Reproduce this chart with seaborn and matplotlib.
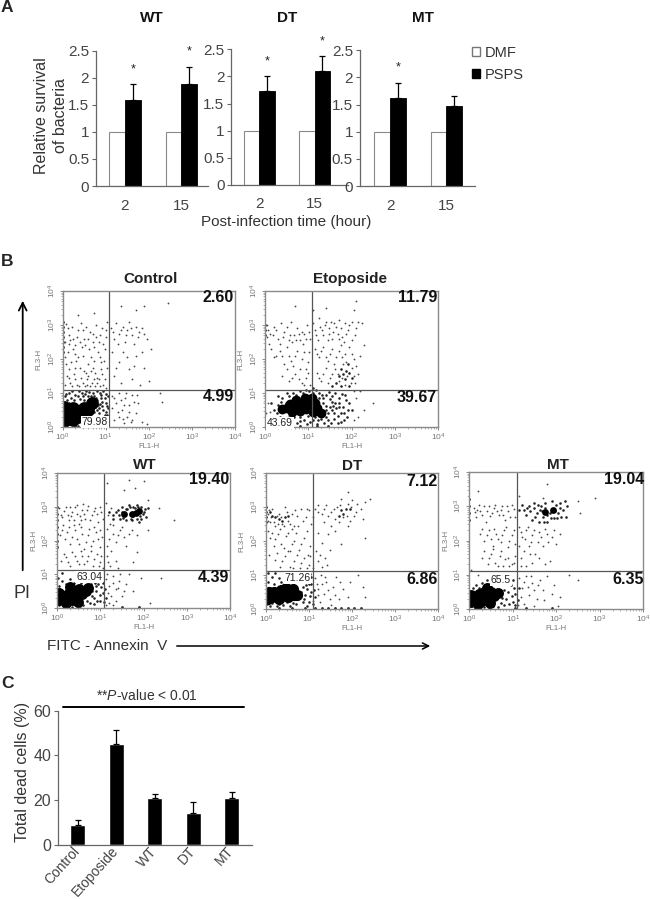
import matplotlib
matplotlib.use("Agg")
import matplotlib.pyplot as plt
from matplotlib.patches import Patch
import numpy as np
import pandas as pd
import seaborn as sns

# panel A
times = ["2", "15"]
treatments = ["DMF", "PSPS"]
dmf_values = [1, 1]
wt_psps = [1.58, 1.89]
dt_psps = [1.73, 2.10]
mt_psps = [1.63, 1.47]
wt_err = [0.31, 0.31]
dt_err = [0.27, 0.27]
mt_err = [0.26, 0.19]
wt_stars = [2.15, 2.48]
dt_stars = [2.28, 2.64]
mt_stars = [2.18, None]

# panel C
groups = ["Control", "Etoposide", "WT", "DT", "MT"]
dead_cells = [9, 45, 21, 14, 21]
dead_err = [2, 6.5, 1.5, 5, 2.5]

# panel B, dots as (log10 FL1, log10 FL3)
ctrl_sparse = [(0.08,3.02),(0.15,2.7),(0.22,2.95),(0.3,2.4),(0.35,2.85),(0.42,3.05),(0.5,2.6),(0.55,2.95),(0.62,2.3),(0.7,2.75),(0.78,3.0),(0.85,2.5),(0.92,2.9),(1.0,2.65),(1.03,3.1),(0.12,2.2),(0.2,1.9),(0.28,2.15),(0.4,1.75),(0.48,2.1),(0.58,1.85),(0.66,2.05),(0.75,1.6),(0.82,2.2),(0.9,1.9),(0.98,2.3),(0.1,1.5),(0.18,1.3),(0.26,1.55),(0.34,1.25),(0.44,1.45),(0.52,1.2),(0.6,1.5),(0.68,1.3),(0.76,1.2),(0.84,1.4),(0.94,1.25),(1.02,1.15),(0.35,3.3),(0.72,3.35),(0.05,2.5),(0.16,2.45),(0.25,2.6),(0.45,2.35),(0.6,2.6),(0.74,2.35),(0.88,2.7),(0.14,1.7),(0.32,1.95),(0.54,1.6),(0.7,1.75),(0.92,1.55),(1.12,2.9),(1.2,2.6),(1.25,3.05),(1.32,2.75),(1.4,2.95),(1.45,2.5),(1.5,2.85),(1.55,3.1),(1.62,2.7),(1.7,2.95),(1.78,2.8),(1.85,2.9),(1.95,2.6),(2.05,2.3),(1.15,2.2),(1.3,1.9),(1.4,2.2),(1.55,1.7),(1.7,2.1),(1.85,2.2),(1.2,1.5),(1.35,1.3),(1.6,1.4),(1.8,1.25),(2.0,1.35),(1.35,3.55),(1.7,3.45),(1.9,3.55),(2.45,3.65),(1.15,0.9),(1.25,0.7),(1.3,1.0),(1.38,0.5),(1.45,0.85),(1.5,0.3),(1.55,0.65),(1.6,0.95),(1.7,0.4),(1.75,0.7),(1.85,0.15),(1.95,0.1),(2.25,1.0),(2.3,0.75),(1.2,0.2),(1.3,0.3),(1.42,0.12),(1.62,0.2)]
ctrl_fine = [(0.05,2.05),(0.08,1.85),(0.13,2.9),(0.18,2.55),(0.24,2.3),(0.3,1.75),(0.33,2.65),(0.37,2.05),(0.4,2.5),(0.47,2.85),(0.5,1.65),(0.53,2.4),(0.57,1.4),(0.63,2.8),(0.65,1.65),(0.7,2.5),(0.73,1.95),(0.78,2.65),(0.8,1.45),(0.86,2.05),(0.9,1.7),(0.95,2.45),(0.97,1.95),(1.0,2.85),(1.03,1.75),(0.06,1.25),(0.14,1.45),(0.22,1.2),(0.3,1.4),(0.38,1.2),(0.48,1.3),(0.56,1.25),(0.64,1.2),(0.72,1.42),(0.8,1.3),(0.88,1.2),(0.98,1.4),(1.18,2.8),(1.28,2.45),(1.36,2.85),(1.48,2.7),(1.58,2.9),(1.66,2.45),(1.74,2.65),(1.9,2.75),(1.25,1.75),(1.5,2.05),(1.65,1.8),(1.9,1.75),(1.15,0.55),(1.2,0.85),(1.28,0.45),(1.35,0.8),(1.42,0.65),(1.48,1.0),(1.55,0.45),(1.65,0.75),(1.4,0.25),(1.58,0.15),(1.72,0.95)]
ctrl_mid = [(0.6,0.9),(0.7,1.0),(0.8,0.8),(0.9,0.95),(1.0,0.7),(1.05,0.9),(0.75,0.6),(0.85,0.4),(0.95,0.5),(1.0,0.2),(0.9,0.15),(0.7,0.25),(0.15,1.0),(0.3,0.95),(0.45,1.0),(0.2,0.85),(0.55,1.05),(0.65,0.75),(0.8,1.05),(0.95,1.05),(0.05,0.9),(0.4,0.82),(0.72,0.45),(0.62,0.62),(0.82,0.65),(0.92,0.75),(0.1,0.78),(0.5,0.78),(0.04,0.05),(0.16,0.08),(0.3,0.04),(0.78,0.12),(1.06,0.55),(1.03,0.35),(0.66,0.12),(0.88,0.3),(0.62,0.3),(0.68,0.4),(0.72,0.7),(0.78,0.85),(0.85,0.55),(0.9,0.3),(0.92,0.62),(0.98,0.85),(0.98,0.35),(1.04,0.62),(1.05,0.12),(0.58,0.75),(0.48,0.9),(0.36,0.9),(0.26,0.78),(0.14,0.72),(0.08,0.98),(0.22,1.05),(0.38,1.05),(0.62,1.03),(0.74,0.92),(0.86,1.0),(1.0,0.98),(0.66,0.9),(0.52,0.98),(0.76,0.75),(0.88,0.68),(0.96,0.18),(0.82,0.22),(0.72,0.12),(0.58,0.1),(0.45,0.08),(0.36,0.02),(0.1,0.02),(0.64,0.42),(0.8,0.5),(0.7,0.55),(0.9,0.85),(1.02,0.45),(0.84,0.15)]
ctrl_core = [(0.05,0.2),(0.05,0.42),(0.14,0.3),(0.14,0.5),(0.24,0.22),(0.25,0.4),(0.25,0.56),(0.36,0.3),(0.38,0.48),(0.48,0.38),(0.5,0.55),(0.58,0.5),(0.68,0.72),(0.04,0.6)]
ctrl_edge = [(0.0,3.1),(0.0,2.95),(0.0,2.8),(0.0,2.65),(0.0,2.5),(0.0,2.35),(0.0,2.2)]

eto_sparse = [(0.05,3.0),(0.12,2.75),(0.2,2.95),(0.3,2.6),(0.38,3.05),(0.45,2.8),(0.52,2.35),(0.6,3.1),(0.68,2.7),(0.75,2.9),(0.82,2.55),(0.9,2.75),(0.98,3.0),(1.05,2.6),(0.15,2.3),(0.25,2.1),(0.35,2.25),(0.45,1.85),(0.55,2.1),(0.65,1.8),(0.75,2.25),(0.85,2.0),(0.95,1.7),(1.02,2.2),(0.4,1.5),(0.55,1.35),(0.7,1.55),(0.85,1.3),(0.95,1.45),(1.05,1.25),(1.12,3.05),(1.18,2.7),(1.25,3.2),(1.32,2.85),(1.38,3.0),(1.45,2.55),(1.52,3.1),(1.58,2.8),(1.65,2.95),(1.72,3.15),(1.78,2.65),(1.85,3.05),(1.92,2.85),(2.0,3.1),(2.08,2.7),(2.15,3.1),(2.25,3.05),(2.3,2.4),(2.2,2.1),(1.15,2.3),(1.25,2.05),(1.35,2.35),(1.45,1.95),(1.55,2.3),(1.65,2.05),(1.75,2.4),(1.85,2.15),(1.95,2.35),(2.05,2.0),(1.2,1.6),(1.3,1.35),(1.4,1.75),(1.5,1.45),(1.62,1.7),(1.72,1.35),(1.8,1.85),(1.9,1.5),(2.0,1.75),(2.08,1.3),(2.15,1.55),(1.4,3.5),(1.1,3.45),(0.7,3.55),(2.1,3.7),(2.05,3.45),(0.05,2.65),(0.1,2.45),(0.55,2.55),(1.48,2.75),(1.7,2.6),(2.5,0.7),(2.2,1.05),(2.3,0.5),(0.08,0.25),(0.02,0.4)]
eto_fine = [(0.08,2.85),(0.18,2.7),(0.25,2.85),(0.35,2.45),(0.42,2.65),(0.5,2.95),(0.58,2.7),(0.62,2.5),(0.72,2.55),(0.78,2.75),(0.85,2.8),(0.88,2.45),(0.94,2.6),(1.02,2.8),(0.2,2.05),(0.4,2.1),(0.5,1.7),(0.6,1.95),(0.7,2.1),(0.8,1.7),(0.9,2.2),(1.0,1.9),(0.62,1.45),(0.78,1.4),(0.9,1.25),(1.0,1.6),(1.15,2.85),(1.22,2.55),(1.28,2.95),(1.35,2.7),(1.42,3.1),(1.48,2.9),(1.55,2.6),(1.6,3.05),(1.68,2.75),(1.75,2.9),(1.82,2.5),(1.88,2.75),(1.95,3.0),(2.02,2.55),(2.1,2.9),(1.2,2.15),(1.3,2.25),(1.4,2.05),(1.5,2.15),(1.6,1.85),(1.7,2.25),(1.78,2.05),(1.88,1.9),(2.0,2.15),(2.1,1.8),(1.25,1.45),(1.35,1.55),(1.45,1.3),(1.55,1.55),(1.68,1.55),(1.78,1.45),(1.85,1.25),(1.98,1.3),(2.05,1.5),(0.08,0.7),(0.12,0.45),(0.18,0.18),(0.12,0.08),(2.1,0.85),(2.15,0.3),(2.05,1.05),(2.05,0.2)]
eto_mid = [(1.75,1.7),(1.8,1.55),(1.88,1.65),(1.95,1.6),(1.85,1.4),(1.7,1.5),(1.92,1.85),(2.0,1.45),(1.65,1.3),(1.55,1.2),(1.75,1.2),(1.95,1.2),(0.2,0.5),(0.3,0.65),(0.35,0.3),(0.25,0.2),(0.4,0.85),(0.5,1.0),(0.45,0.15),(0.6,0.2),(0.75,0.12),(0.9,0.2),(1.05,0.15),(1.2,0.1),(0.65,1.0),(0.8,1.05),(0.95,1.1),(1.1,1.15),(1.25,1.0),(1.4,0.95),(1.55,0.9),(1.7,0.85),(1.85,0.95),(1.95,0.7),(2.0,0.5),(1.9,0.3),(1.75,0.15),(1.6,0.25),(1.45,0.2),(1.3,0.25),(1.35,0.7),(1.5,0.6),(1.65,0.55),(1.8,0.6),(1.45,0.4),(1.6,0.4),(1.75,0.4),(1.35,0.85),(1.55,0.75),(0.3,0.9),(0.15,0.7),(1.2,0.75),(1.1,1.0),(1.4,0.3),(0.55,0.9),(0.4,0.6),(0.28,0.42),(0.36,0.75),(0.48,0.72),(0.55,0.3),(0.68,0.3),(0.8,0.3),(1.0,0.32),(1.15,0.3),(1.28,0.6),(1.42,0.62),(1.5,0.82),(1.62,0.7),(1.72,0.7),(1.88,0.8),(1.92,0.5),(1.82,0.2),(1.68,0.12),(1.52,0.12),(1.36,0.12),(1.12,0.22),(0.98,0.1),(0.82,0.18),(0.62,0.1),(0.72,0.95),(0.88,1.0),(1.02,1.05),(1.18,1.08),(1.32,0.95),(1.48,1.02),(1.62,1.0),(1.78,0.98),(1.4,0.5),(1.55,0.5),(1.68,0.32),(1.3,0.38),(1.22,0.2),(0.5,0.2),(0.35,0.12),(1.72,0.58),(1.82,0.42),(1.58,0.62),(1.25,0.85)]
eto_core = [(0.5,0.55),(0.58,0.68),(0.62,0.45),(0.72,0.58),(0.72,0.78),(0.82,0.48),(0.85,0.68),(0.92,0.85),(0.95,0.52),(1.03,0.68),(1.08,0.85),(1.1,0.45),(1.2,0.55),(1.3,0.42),(0.4,0.52),(1.15,0.7)]
eto_edge = [(0.0,3.0),(0.0,2.85),(0.0,2.7),(0.45,0.02),(0.8,0.02),(1.2,0.02),(1.45,0.02)]

wt_sparse = [(0.05,2.95),(0.12,2.7),(0.2,3.0),(0.28,2.6),(0.35,2.85),(0.42,3.0),(0.5,2.5),(0.58,2.9),(0.65,2.65),(0.72,3.02),(0.8,2.75),(0.88,2.95),(0.95,2.55),(1.02,2.85),(0.1,2.3),(0.18,2.05),(0.26,2.4),(0.34,2.1),(0.42,2.3),(0.5,1.9),(0.58,2.2),(0.66,1.95),(0.74,2.35),(0.82,2.0),(0.9,2.25),(0.98,1.8),(1.04,2.1),(0.15,1.6),(0.25,1.35),(0.35,1.65),(0.45,1.4),(0.55,1.7),(0.62,1.3),(0.72,1.55),(0.82,1.25),(0.92,1.6),(1.0,1.35),(1.05,1.2),(1.12,3.1),(1.18,2.75),(1.25,2.95),(1.22,2.5),(1.3,2.2),(1.35,1.95),(1.45,2.3),(1.55,2.1),(1.6,1.85),(1.72,2.3),(1.85,2.15),(1.25,1.7),(1.18,1.35),(1.35,1.4),(1.4,1.2),(1.75,1.35),(1.85,1.65),(2.1,2.3),(2.1,3.2),(2.35,2.95),(2.7,2.6),(1.8,3.55),(2.0,3.75),(1.55,3.5),(1.65,3.8),(1.15,3.7),(1.12,0.85),(1.2,0.65),(1.28,0.95),(1.35,0.55),(1.42,0.8),(1.5,0.35),(1.6,0.7),(1.2,0.15),(1.35,0.2),(1.75,0.5),(1.95,0.9),(2.15,0.15),(2.4,0.9),(1.65,1.0),(0.45,3.05),(0.6,3.08),(0.3,2.98),(0.52,2.72)]
wt_fine = [(0.08,2.75),(0.16,2.88),(0.24,2.75),(0.32,2.72),(0.38,2.6),(0.46,2.78),(0.55,2.62),(0.62,2.8),(0.68,2.9),(0.76,2.6),(0.84,2.88),(0.92,2.78),(0.98,3.0),(1.05,2.65),(0.06,2.15),(0.14,2.45),(0.22,2.25),(0.3,1.9),(0.38,2.45),(0.46,2.05),(0.54,2.4),(0.62,1.75),(0.7,2.15),(0.78,1.85),(0.86,2.4),(0.94,2.05),(1.0,2.3),(0.08,1.4),(0.2,1.5),(0.3,1.25),(0.4,1.55),(0.5,1.3),(0.58,1.55),(0.68,1.4),(0.78,1.7),(0.86,1.45),(0.96,1.25),(1.02,1.55),(1.15,2.35),(1.2,2.05),(1.28,2.45),(1.4,2.15),(1.5,2.4),(1.65,2.2),(1.15,1.55),(1.22,1.25),(1.15,1.85),(1.18,0.45),(1.25,0.35),(1.3,0.75),(1.4,0.6),(1.45,1.0),(1.15,1.02),(1.55,0.5),(1.28,0.1),(1.12,0.1)]
wt_mid = [(1.3,2.75),(1.4,2.9),(1.45,2.65),(1.5,3.0),(1.55,2.75),(1.6,2.6),(1.65,3.05),(1.7,2.65),(1.75,3.0),(1.85,3.05),(1.95,3.0),(2.0,2.85),(2.05,2.7),(2.1,2.95),(1.9,2.55),(1.95,2.65),(1.5,2.85),(1.62,2.92),(1.75,2.72),(1.98,2.78),(1.2,2.85),(0.85,0.3),(0.9,0.5),(0.95,0.7),(1.0,0.2),(1.05,0.45),(1.0,0.85),(0.85,0.85),(0.7,0.9),(0.6,0.8),(0.45,0.88),(0.3,0.85),(0.12,0.8),(0.05,0.65),(0.75,0.15),(0.6,0.1),(0.45,0.06),(0.25,0.05),(0.05,0.1),(0.85,0.12),(1.12,0.3),(1.1,0.55),(0.9,0.65),(0.8,0.35),(0.1,1.05),(0.02,0.9),(1.35,2.85),(1.42,2.75),(1.52,2.68),(1.58,2.92),(1.68,2.98),(1.8,2.95),(1.88,2.98),(1.92,2.72),(2.02,2.92),(1.85,2.65),(1.72,2.6),(1.28,2.65),(0.92,0.2),(0.98,0.4),(1.02,0.62),(0.88,0.75),(0.78,0.72),(0.55,0.75),(0.38,0.75),(0.2,0.72),(0.68,0.22),(0.52,0.05),(0.15,0.04),(0.35,0.02),(0.8,0.5),(1.08,0.18),(1.06,0.75)]
wt_core = [(0.05,0.25),(0.05,0.45),(0.14,0.32),(0.2,0.15),(0.25,0.42),(0.33,0.25),(0.38,0.5),(0.42,0.38),(0.48,0.18),(0.5,0.55),(0.58,0.42),(0.66,0.5),(0.72,0.58),(0.3,0.62)]
wt_hot = [(1.83,2.82),(1.72,2.78),(1.55,2.8),(1.9,2.88)]
wt_edge = [(0.0,3.0),(0.0,2.8),(0.0,2.6),(0.0,2.4),(0.0,2.2),(0.0,2.0),(0.0,1.8),(1.5,0.02),(1.9,0.02)]

dt_sparse = [(0.05,2.8),(0.1,2.55),(0.15,2.95),(0.22,2.45),(0.3,2.8),(0.38,2.5),(0.45,3.0),(0.52,2.6),(0.6,2.35),(0.68,2.9),(0.75,2.45),(0.82,2.95),(0.92,2.7),(1.0,2.9),(1.05,2.5),(0.1,2.1),(0.18,1.85),(0.28,2.2),(0.36,1.9),(0.46,2.15),(0.56,1.7),(0.66,2.0),(0.76,1.75),(0.88,2.1),(0.98,1.6),(0.2,1.45),(0.32,1.25),(0.45,1.55),(0.55,1.25),(0.66,1.4),(0.78,1.2),(0.88,1.5),(1.0,1.3),(1.1,1.2),(1.2,1.4),(1.3,1.25),(1.38,1.5),(1.48,1.75),(1.3,1.95),(1.45,2.2),(1.2,2.25),(1.6,2.3),(1.75,1.9),(1.1,2.7),(1.15,2.95),(1.22,3.05),(1.3,2.8),(1.4,3.05),(1.52,2.85),(1.6,2.65),(1.65,3.0),(1.7,2.55),(1.75,3.25),(1.8,2.7),(1.9,3.1),(1.95,2.6),(2.0,3.2),(2.05,2.75),(2.12,3.1),(2.2,2.95),(2.3,3.15),(2.42,3.25),(2.25,2.65),(2.3,2.1),(1.9,2.45),(1.9,3.45),(1.15,0.9),(1.22,0.6),(1.28,1.0),(1.35,0.45),(1.4,0.8),(1.48,0.3),(1.55,0.65),(1.62,0.95),(1.7,0.3),(1.8,0.6),(1.95,0.8),(2.15,1.0),(2.25,0.65),(2.3,0.35),(1.25,0.2),(1.5,0.12),(1.1,0.25)]
dt_fine = [(0.04,2.6),(0.07,2.9),(0.12,2.7),(0.18,2.55),(0.25,2.75),(0.28,2.5),(0.34,2.7),(0.42,2.45),(0.48,2.85),(0.55,2.5),(0.6,2.8),(0.65,2.45),(0.72,2.75),(0.85,2.6),(0.95,2.95),(0.05,2.3),(0.14,2.25),(0.22,2.05),(0.32,2.35),(0.42,1.8),(0.52,2.25),(0.6,1.9),(0.7,2.25),(0.82,1.9),(0.95,2.3),(1.03,1.85),(0.08,1.6),(0.25,1.65),(0.38,1.4),(0.5,1.7),(0.62,1.2),(0.72,1.6),(0.82,1.35),(0.95,1.2),(1.03,1.55),(1.16,1.7),(1.25,1.6),(1.42,1.3),(1.2,2.85),(1.35,2.95),(1.45,2.75),(1.58,2.95),(1.72,3.05),(1.88,2.75),(1.98,3.0),(2.1,2.85),(1.35,2.55),(1.5,2.45),(1.2,0.4),(1.18,0.75),(1.3,0.75),(1.38,0.95),(1.45,0.55),(1.6,0.4),(1.72,0.8),(1.9,0.35)]
dt_mid = [(0.1,2.85),(0.15,2.75),(0.22,2.7),(0.3,2.65),(0.38,2.6),(0.45,2.7),(0.5,2.75),(1.75,2.9),(1.8,2.8),(1.85,2.95),(1.7,2.75),(1.95,2.95),(0.8,0.9),(0.9,0.85),(1.0,0.75),(1.05,0.95),(0.95,0.6),(1.05,0.5),(0.9,0.4),(1.0,0.2),(0.85,0.2),(0.75,0.8),(0.6,0.9),(0.45,1.0),(0.3,0.9),(0.15,0.95),(0.05,1.05),(0.05,0.8),(0.7,0.15),(0.55,0.1),(0.4,0.12),(0.25,0.1),(0.1,0.08),(1.05,0.75),(1.12,0.55),(1.15,0.35),(0.2,1.05),(0.85,0.65),(1.1,0.15),(0.82,0.5),(0.88,0.3),(0.95,0.1),(0.8,0.78),(0.92,0.7),(0.7,0.95),(0.55,0.82),(0.35,0.78),(0.18,0.75),(0.62,0.18),(0.48,0.2),(0.3,0.16),(0.14,0.18),(0.02,0.15),(1.02,0.38),(0.98,0.9),(0.72,0.28),(0.86,0.8),(1.02,1.02)]
dt_core = [(0.05,0.3),(0.06,0.5),(0.15,0.35),(0.18,0.5),(0.26,0.42),(0.3,0.28),(0.36,0.55),(0.42,0.42),(0.46,0.62),(0.52,0.35),(0.56,0.52),(0.64,0.4),(0.72,0.42),(0.62,0.6)]
dt_edge = [(0.0,3.0),(0.0,2.85),(0.0,2.7),(0.0,2.55),(1.15,0.02),(1.3,0.02),(1.45,0.02),(1.6,0.02),(1.75,0.02),(1.9,0.02),(2.05,0.02),(2.2,0.02),(0.3,0.02),(0.6,0.02),(0.9,0.02)]

mt_sparse = [(0.1,2.95),(0.15,2.7),(0.22,3.05),(0.3,2.75),(0.38,2.55),(0.45,3.0),(0.52,2.8),(0.6,3.05),(0.68,2.75),(0.75,3.0),(0.82,2.6),(0.9,2.85),(0.98,3.05),(1.05,2.7),(0.25,2.2),(0.35,2.0),(0.45,2.3),(0.55,1.85),(0.62,2.2),(0.72,1.95),(0.8,2.3),(0.88,1.8),(0.98,2.15),(1.05,1.9),(0.3,1.5),(0.42,1.3),(0.5,1.6),(0.6,1.35),(0.7,1.55),(0.78,1.25),(0.88,1.5),(0.98,1.3),(1.05,1.55),(1.15,2.4),(1.22,2.1),(1.3,2.3),(1.38,1.85),(1.45,2.15),(1.52,1.6),(1.6,2.25),(1.7,1.85),(1.78,2.2),(1.85,1.4),(1.9,2.1),(2.0,1.9),(2.1,2.2),(1.2,1.5),(1.3,1.25),(1.45,1.35),(1.75,1.3),(2.55,2.8),(2.9,3.25),(2.5,3.15),(1.8,3.65),(1.7,3.25),(1.15,3.3),(0.2,3.45),(1.15,0.9),(1.22,0.6),(1.3,0.95),(1.38,0.4),(1.45,0.75),(1.55,0.3),(1.62,0.85),(1.7,0.55),(1.8,0.95),(1.95,0.7),(2.1,0.35),(2.3,1.0),(2.5,0.85),(1.25,0.15),(1.5,0.1),(2.05,0.1),(0.05,1.15),(0.2,0.98)]
mt_fine = [(0.12,2.82),(0.18,2.9),(0.25,2.85),(0.34,3.0),(0.4,2.85),(0.48,2.72),(0.56,2.95),(0.64,2.85),(0.72,2.88),(0.78,2.75),(0.86,3.0),(0.94,2.7),(1.02,2.92),(0.3,2.35),(0.4,2.15),(0.5,2.05),(0.58,2.35),(0.66,2.05),(0.76,2.15),(0.85,2.4),(0.92,2.0),(1.02,2.3),(0.35,1.7),(0.46,1.5),(0.55,1.75),(0.65,1.25),(0.74,1.7),(0.82,1.45),(0.92,1.25),(1.02,1.35),(1.18,2.25),(1.28,2.05),(1.35,2.4),(1.42,1.95),(1.5,2.3),(1.58,1.95),(1.65,2.1),(1.75,2.35),(1.82,1.95),(1.95,2.3),(1.15,1.85),(1.25,1.7),(1.4,1.6),(1.6,1.5),(1.18,1.25),(1.18,0.35),(1.25,0.8),(1.35,0.65),(1.42,0.95),(1.5,0.55),(1.58,0.7),(1.72,0.25),(1.9,0.45),(1.12,0.12)]
mt_mid = [(1.15,2.9),(1.22,3.05),(1.3,2.75),(1.38,3.0),(1.45,2.6),(1.5,3.1),(1.55,2.8),(1.6,2.55),(1.65,3.0),(1.7,2.7),(1.75,3.1),(1.8,2.55),(1.85,2.8),(1.9,3.15),(1.95,2.65),(2.0,3.05),(2.05,2.8),(2.1,3.1),(2.15,2.9),(2.2,3.15),(2.22,2.7),(1.4,2.85),(1.62,2.88),(2.25,3.0),(1.75,2.95),(0.85,0.3),(0.9,0.5),(0.95,0.7),(1.0,0.2),(1.05,0.45),(1.0,0.85),(0.85,0.85),(0.7,0.9),(0.55,1.0),(0.4,0.85),(0.3,0.75),(0.15,0.7),(0.8,0.12),(0.65,0.05),(0.45,0.04),(0.25,0.04),(1.12,0.25),(1.15,0.6),(0.9,0.95),(1.25,2.9),(1.32,2.95),(1.48,2.95),(1.58,3.05),(1.68,2.85),(1.78,2.75),(1.88,2.65),(1.98,2.85),(2.08,2.95),(2.12,2.7),(2.02,2.65),(1.72,2.55),(1.52,2.7),(0.92,0.15),(0.98,0.38),(1.02,0.6),(0.88,0.72),(0.78,0.75),(0.62,0.8),(0.48,0.72),(0.22,0.62),(0.08,0.62),(0.72,0.18),(0.55,0.1),(0.35,0.06),(0.12,0.04),(1.06,0.12),(0.8,0.55),(0.75,0.32)]
mt_core = [(0.05,0.2),(0.05,0.4),(0.14,0.28),(0.2,0.14),(0.22,0.44),(0.3,0.24),(0.35,0.5),(0.42,0.32),(0.48,0.18),(0.5,0.5),(0.58,0.38),(0.66,0.48),(0.4,0.6)]
mt_hot = [(1.92,2.9),(1.75,2.82)]
mt_edge = [(0.0,3.2),(0.0,3.0),(0.0,2.8),(0.0,2.6),(1.3,0.02),(1.9,0.02),(1.05,0.02)]

FIG_W, FIG_H = 650, 899


def px_axes(fig, left, top, right, bottom):
    """Add axes from pixel edges measured on the reference."""
    return fig.add_axes([left / FIG_W, 1 - bottom / FIG_H, (right - left) / FIG_W, (bottom - top) / FIG_H])


def fig_text(fig, x, y, s, **kw):
    kw.setdefault("ha", "center")
    kw.setdefault("va", "center")
    fig.text(x / FIG_W, 1 - y / FIG_H, s, **kw)


def survival_panel(fig, box, xlim, psps, err, stars):
    """One grouped bar panel of part A."""
    ax = px_axes(fig, *box)
    df = pd.DataFrame({
        "time": times * 2,
        "treatment": [treatments[0]] * 2 + [treatments[1]] * 2,
        "survival": dmf_values + psps,
    })
    sns.barplot(data=df, x="time", y="survival", hue="treatment", order=times, palette=["white", "black"],
                width=0.56, gap=0, errorbar=None, legend=False, ax=ax)
    for bar in ax.containers[0]:
        bar.set_edgecolor("#8a8a8a")
        bar.set_linewidth(0.8)
    for bar, e, star in zip(ax.containers[1], err, stars):
        bar.set_edgecolor("black")
        bar.set_linewidth(0.6)
        xc = bar.get_x() + bar.get_width() / 2
        ax.errorbar(xc, bar.get_height(), yerr=[[0], [e]], color="black", lw=0.9, capsize=2, capthick=0.9)
        if star is not None:
            ax.text(xc, star, "*", ha="center", va="center", fontsize=9, color="#222222")
    ax.set_xlim(*xlim)
    ax.set_ylim(0, 2.5)
    ax.set_yticks([0, 0.5, 1, 1.5, 2, 2.5], ["0", "0.5", "1", "1.5", "2", "2.5"])
    ax.set_xlabel("")
    ax.set_ylabel("")
    ax.tick_params(axis="y", labelsize=11, colors="#444444", length=3, pad=2, color="#666666")
    ax.tick_params(axis="x", labelsize=11, colors="#444444", length=0, pad=9)
    sns.despine(ax=ax)
    for side in ("left", "bottom"):
        ax.spines[side].set_color("#666666")
        ax.spines[side].set_linewidth(0.9)
    return ax


def flow_panel(fig, box, gate, sparse, mid, core, edge, core_size=80, hot=None):
    """One FL1/FL3 dot plot of part B."""
    ax = px_axes(fig, *box)
    ax.set(xscale="log", yscale="log", xlim=(1, 1e4), ylim=(1, 1e4))
    tiers = [(sparse, 1.7, "#4a4a4a"), (edge, 4, "#222222"), (mid, 3.4, "#222222"), (core, core_size, "black")]
    if hot is not None:
        tiers.append((hot, 24, "black"))
    for pts, size, colour in tiers:
        xy = np.array(pts)
        sns.scatterplot(x=10 ** xy[:, 0], y=10 ** xy[:, 1], s=size, color=colour, linewidth=0, ax=ax, legend=False)
    ax.axvline(10 ** gate[0], color="#555555", lw=0.9)
    ax.axhline(10 ** gate[1], color="#555555", lw=0.9)
    ax.set_xticks([1, 10, 100, 1000, 10000])
    ax.set_yticks([1, 10, 100, 1000, 10000])
    ax.tick_params(which="major", labelsize=6, colors="#777777", length=2.5, width=0.6, pad=1)
    ax.tick_params(which="minor", colors="#777777", length=1.2, width=0.4)
    ax.tick_params(axis="y", which="major", labelrotation=90)
    for label in ax.get_yticklabels():
        label.set_va("center")
    ax.set_xlabel("FL1-H", fontsize=5.5, color="#777777", labelpad=0)
    ax.set_ylabel("FL3-H", fontsize=5.5, color="#777777", labelpad=3)
    for side in ax.spines.values():
        side.set_color("#8a8a8a")
        side.set_linewidth(1.0)
    return ax


sns.set_style("ticks")
plt.rcParams["font.family"] = ["Liberation Sans", "DejaVu Sans"]
plt.rcParams["mathtext.fontset"] = "custom"
plt.rcParams["mathtext.rm"] = "Liberation Sans"
plt.rcParams["mathtext.it"] = "Liberation Sans:italic"
plt.rcParams["mathtext.default"] = "regular"

fig = plt.figure(figsize=(6.5, 8.99), dpi=100)

# part A
survival_panel(fig, (96, 50.7, 208, 186), (-0.513, 1.469), wt_psps, wt_err, wt_stars)
survival_panel(fig, (231.4, 49.3, 348, 185), (-0.498, 1.6), dt_psps, dt_err, dt_stars)
survival_panel(fig, (359.9, 50.3, 475, 186), (-0.54, 1.51), mt_psps, mt_err, mt_stars)
for x, name in [(151.5, "WT"), (287.5, "DT"), (423, "MT")]:
    fig_text(fig, x, 18, name, fontsize=11, fontweight="bold", color="#111111")
fig_text(fig, 51, 116, "Relative survival\nof bacteria", rotation=90, fontsize=11.5, color="#333333", linespacing=1.35)
fig_text(fig, 286, 222, "Post-infection time (hour)", fontsize=11, color="#333333")
fig.legend(handles=[Patch(facecolor="white", edgecolor="#777777", label=treatments[0]),
                    Patch(facecolor="black", edgecolor="black", label=treatments[1])],
           loc="upper left", bbox_to_anchor=(472 / FIG_W, 1 - 46 / FIG_H), frameon=False, fontsize=10.5,
           labelcolor="#333333", handlelength=0.55, handleheight=0.55, handletextpad=0.3, labelspacing=0.55,
           borderpad=0, borderaxespad=0)
fig_text(fig, 7, 8, "A", fontsize=12.5, fontweight="bold")

# part B
fig_text(fig, 7, 262, "B", fontsize=12.5, fontweight="bold")
flow_panel(fig, (62.5, 291, 235, 427), (1.08, 1.10), ctrl_sparse + ctrl_fine, ctrl_mid, ctrl_core, ctrl_edge, core_size=85)
flow_panel(fig, (265, 291, 438, 427), (1.09, 1.09), eto_sparse + eto_fine, eto_mid, eto_core, eto_edge, core_size=50)
flow_panel(fig, (57.3, 473, 230, 608), (1.09, 1.116), wt_sparse + wt_fine, wt_mid, wt_core, wt_edge, core_size=62, hot=wt_hot)
flow_panel(fig, (266, 473, 438, 609), (1.10, 1.12), dt_sparse + dt_fine, dt_mid, dt_core, dt_edge, core_size=65)
flow_panel(fig, (469.3, 472, 643, 609), (1.10, 1.11), mt_sparse + mt_fine, mt_mid, mt_core, mt_edge, core_size=62, hot=mt_hot)
for x, y, name in [(151, 279, "Control"), (350, 279, "Etoposide"), (145, 465, "WT"), (352, 466, "DT"), (558, 465, "MT")]:
    fig_text(fig, x, y, name, fontsize=11, fontweight="bold", color="#222222")
for x, y, val in [(234, 298, "2.60"), (234, 397, "4.99"), (437, 298, "11.79"), (437, 398, "39.67"),
                  (229, 480, "19.40"), (229, 578, "4.39"), (437.5, 482, "7.12"), (437.5, 579, "6.86"),
                  (644, 479, "19.04"), (644, 580, "6.35")]:
    fig_text(fig, x, y, val, fontsize=11.5, fontweight="bold", ha="right", color="#111111")
for x, y, val in [(95, 422, "79.98"), (280, 423, "43.69"), (89, 577, "63.04"), (297.5, 578, "71.26"), (501, 580, "65.5")]:
    fig_text(fig, x, y, val, fontsize=7.5, color="#222222", zorder=5,
             bbox=dict(facecolor="white", edgecolor="none", pad=0.5))

arrow_ax = fig.add_axes([0, 0, 1, 1], facecolor="none")
arrow_ax.set_axis_off()
arrow_ax.set_xlim(0, FIG_W)
arrow_ax.set_ylim(FIG_H, 0)
arrow_ax.annotate("", xy=(22.7, 298), xytext=(22.7, 573), arrowprops=dict(arrowstyle="->", color="black", lw=1.3, mutation_scale=14))
arrow_ax.annotate("", xy=(433, 646), xytext=(174, 646), arrowprops=dict(arrowstyle="->", color="black", lw=1.1, mutation_scale=11))
fig_text(fig, 22, 593, "PI", fontsize=13, color="#333333")
fig_text(fig, 107, 646, "FITC - Annexin  V", fontsize=11, color="#333333")

# part C
fig_text(fig, 7, 683, "C", fontsize=12.5, fontweight="bold")
ax_c = px_axes(fig, 58.3, 710.7, 251.7, 844.7)
sns.barplot(x=groups, y=dead_cells, color="black", saturation=1, width=0.39, errorbar=None, ax=ax_c)
for bar, e in zip(ax_c.containers[0], dead_err):
    ax_c.errorbar(bar.get_x() + bar.get_width() / 2, bar.get_height(), yerr=[[0], [e]], color="black", lw=0.9, capsize=2.5, capthick=0.9)
ax_c.set_xlim(-0.5, 4.52)
ax_c.set_ylim(0, 60)
ax_c.set_yticks([0, 20, 40, 60])
ax_c.tick_params(axis="y", labelsize=11.5, colors="#444444", length=3, pad=2, color="#666666")
ax_c.tick_params(axis="x", labelsize=10, colors="#444444", length=0, pad=3)
plt.setp(ax_c.get_xticklabels(), rotation=48, ha="right", va="center", rotation_mode="anchor")
sns.despine(ax=ax_c)
for side in ("left", "bottom"):
    ax_c.spines[side].set_color("#666666")
    ax_c.spines[side].set_linewidth(0.9)
fig_text(fig, 23, 772, "Total dead cells (%)", rotation=90, fontsize=11.5, color="#333333")
fig_text(fig, 147, 695, r"**$\mathit{P}$-value < 0.01", fontsize=10, color="#333333")
arrow_ax.plot([63, 244], [706.7, 706.7], color="black", lw=1.4)

fig.savefig("out.png", dpi=100, facecolor="white")
